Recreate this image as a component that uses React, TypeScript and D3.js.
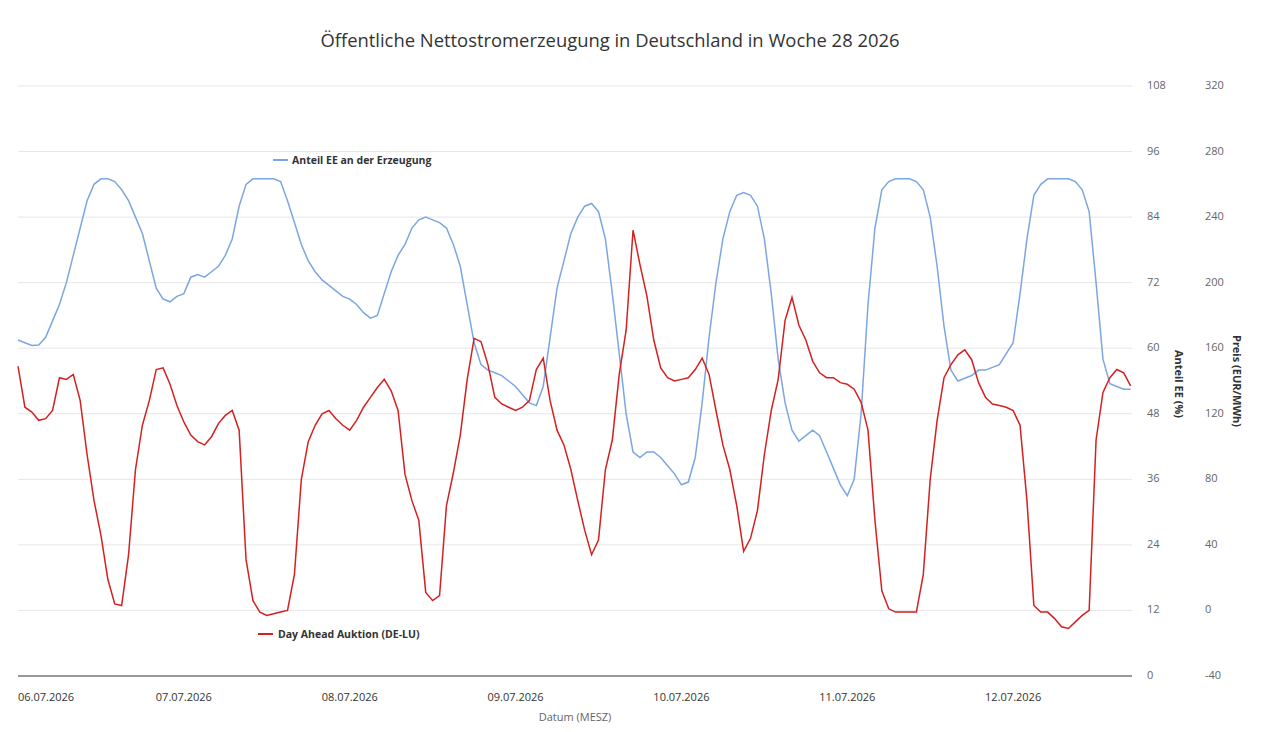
import React from "react";
import * as d3 from "d3";

const startDate = new Date(2026, 6, 6, 0, 0);
const dayLabels = ["06.07.2026", "07.07.2026", "08.07.2026", "09.07.2026", "10.07.2026", "11.07.2026", "12.07.2026"];
const leftTicks = [0, 12, 24, 36, 48, 60, 72, 84, 96, 108];
const rightTicks = [-40, 0, 40, 80, 120, 160, 200, 240, 280, 320];

// hourly share of renewables (%)
const eeShare = [
  61.5, 61, 60.5, 60.6, 62, 65, 68, 72, 77, 82, 87, 90, 91, 91, 90.5, 89, 87, 84, 81, 76, 71, 69, 68.5, 69.5,
  70, 73, 73.5, 73, 74, 75, 77, 80, 86, 90, 91, 91, 91, 91, 90.5, 87, 83, 79, 76, 74, 72.5, 71.5, 70.5, 69.5,
  69, 68, 66.5, 65.5, 66, 70, 74, 77, 79, 82, 83.5, 84, 83.5, 83, 82, 79, 75, 68, 61, 57, 56, 55.5, 55, 54,
  53, 51.5, 50, 49.5, 53, 62, 71, 76, 81, 84, 86, 86.5, 85, 80, 70, 59, 48, 41, 40, 41, 41, 40, 38.5, 37,
  35, 35.5, 40, 50, 62, 72, 80, 85, 88, 88.5, 88, 86, 80, 70, 58, 50, 45, 43, 44, 45, 44, 41, 38, 35,
  33, 36, 48, 68, 82, 89, 90.5, 91, 91, 91, 90.5, 89, 84, 75, 64, 56, 54, 54.5, 55, 56, 56, 56.5, 57, 59,
  61, 70, 80, 88, 90, 91, 91, 91, 91, 90.5, 89, 85, 72, 58, 53.5, 53, 52.5, 52.5,
];

// hourly day-ahead price (EUR/MWh)
const dayAhead = [
  149, 124, 121, 116, 117, 122, 142, 141, 144, 128, 95, 67, 46, 19, 4, 3, 34, 86, 113, 128, 147, 148, 138, 125,
  115, 107, 103, 101, 106, 114, 119, 122, 110, 31, 6, -1, -3, -2, -1, 0, 22, 80, 103, 113, 120, 122, 117, 113,
  110, 116, 124, 130, 136, 141, 134, 122, 83, 67, 55, 11, 6, 9, 64, 84, 107, 141, 166, 164, 150, 130, 126, 124,
  122, 124, 128, 147, 154, 128, 110, 101, 86, 67, 49, 34, 43, 86, 104, 144, 171, 232, 211, 192, 165, 148, 142, 140,
  141, 142, 147, 154, 144, 122, 101, 86, 64, 36, 44, 61, 95, 122, 141, 177, 191, 174, 165, 152, 145, 142, 142, 139,
  138, 135, 127, 110, 55, 12, 1, -1, -1, -1, -1, 22, 80, 116, 142, 150, 156, 159, 153, 139, 130, 126, 125, 124,
  122, 113, 67, 3, -1, -1, -5, -10, -11, -7, -3, 0, 104, 133, 142, 147, 145, 137,
];

const W = 1280, H = 732;
const X0 = 18, X1 = 1132, YT = 86, YB = 676;

export default function App() {
  const t = (i: number) => new Date(startDate.getTime() + i * 3600000);
  const endT = new Date(startDate.getTime() + 161.2 * 3600000);
  const x = d3.scaleTime().domain([startDate, endT]).range([X0, X1]);
  const yL = d3.scaleLinear().domain([0, 108]).range([YB, YT]);
  const yR = d3.scaleLinear().domain([-40, 320]).range([YB, YT]);
  const lineEE = d3.line<number>().x((_, i) => x(t(i))).y((d) => yL(d));
  const lineP = d3.line<number>().x((_, i) => x(t(i))).y((d) => yR(d));
  const font = "'Open Sans', 'DejaVu Sans', sans-serif";
  return (
    <svg width={W} height={H} style={{ position: "absolute", left: 0, top: 0, fontFamily: font }}>
      <rect width={W} height={H} fill="#fff" />
      <text x={610} y={47} textAnchor="middle" fontSize={18.4} fill="#333">Öffentliche Nettostromerzeugung in Deutschland in Woche 28 2026</text>
      {leftTicks.map((v) => (
        <g key={v}>
          {v > 0 && <line x1={X0} x2={X1} y1={yL(v)} y2={yL(v)} stroke="#e6e6e6" />}
          <text x={1147} y={yL(v) + 3} fontSize={11} fill="#666">{v}</text>
        </g>
      ))}
      {rightTicks.map((v) => (
        <text key={v} x={1205} y={yR(v) + 3} fontSize={11} fill="#666">{v}</text>
      ))}
      <line x1={X0} x2={X1} y1={YB} y2={YB} stroke="#333" />
      {dayLabels.map((l, i) => {
        const xx = x(new Date(startDate.getTime() + i * 86400000));
        return (
          <text key={l} x={xx} y={701} fontSize={11} fill="#333" textAnchor={i === 0 ? "start" : "middle"}>{l}</text>
        );
      })}
      <text x={575} y={721} fontSize={11} fill="#666" textAnchor="middle">Datum (MESZ)</text>
      <text transform="translate(1175,384) rotate(90)" fontSize={11} fontWeight="bold" fill="#333" textAnchor="middle">Anteil EE (%)</text>
      <text transform="translate(1233,381) rotate(90)" fontSize={11} fontWeight="bold" fill="#333" textAnchor="middle">Preis (EUR/MWh)</text>
      <path d={lineEE(eeShare) || ""} fill="none" stroke="#7ca6e0" strokeWidth={1.5} />
      <path d={lineP(dayAhead) || ""} fill="none" stroke="#d42020" strokeWidth={1.5} />
      <line x1={273} x2={288} y1={160} y2={160} stroke="#7ca6e0" strokeWidth={2} />
      <text x={292} y={164} fontSize={10.5} fontWeight="bold" fill="#333">Anteil EE an der Erzeugung</text>
      <line x1={258} x2={273} y1={634} y2={634} stroke="#d42020" strokeWidth={2} />
      <text x={278} y={638} fontSize={10.5} fontWeight="bold" fill="#333">Day Ahead Auktion (DE-LU)</text>
    </svg>
  );
}
